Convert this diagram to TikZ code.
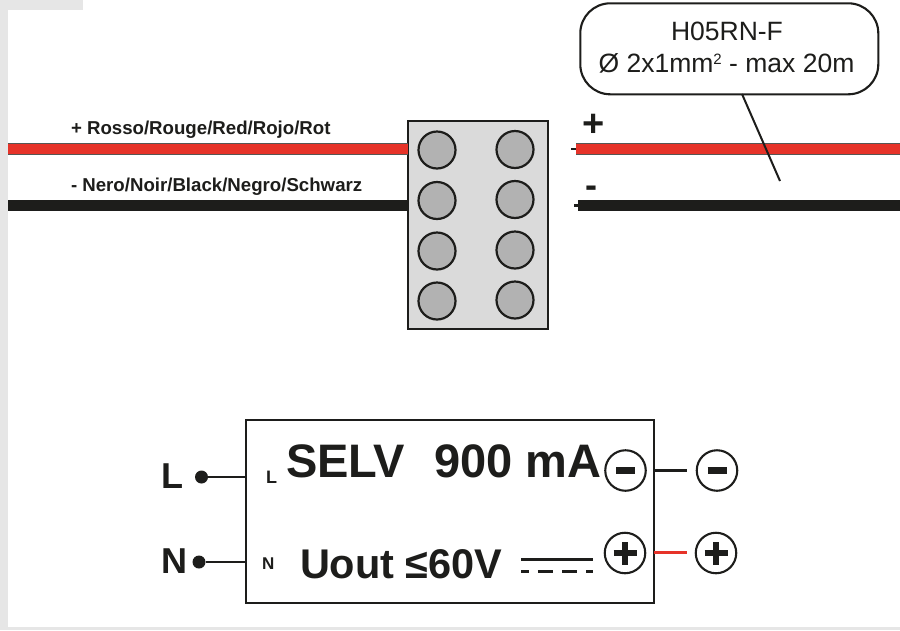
\documentclass[tikz,border=0pt]{standalone}
\usepackage{fontspec}
\setmainfont{Liberation Sans}
\definecolor{ink}{HTML}{1D1D1B}
\definecolor{wirered}{HTML}{E63329}
\definecolor{edge}{HTML}{E6E6E6}
\definecolor{blockfill}{HTML}{DADADA}
\definecolor{holefill}{HTML}{B2B2B2}
\newcommand{\fs}[1]{\fontsize{#1}{#1}\selectfont}
\tikzset{
  x=1pt,y=-1pt,
  txt/.style={inner sep=0pt,outer sep=0pt,text=ink,anchor=base west,font=\bfseries\fs{#1}},
  hole/.style={circle,draw=ink,line width=2.2pt,fill=holefill,minimum size=37pt,inner sep=0pt,outer sep=0pt},
  term/.style={circle,draw=ink,line width=2.1pt,fill=white,minimum size=40.5pt,inner sep=0pt,outer sep=0pt},
  dot/.style={circle,fill=ink,minimum size=13pt,inner sep=0pt,outer sep=0pt},
  redwire/.style={line width=1pt,draw=ink!75,double=wirered,double distance=9.6pt},
  blackwire/.style={line width=11pt,draw=ink},
  lead/.style={line width=2.3pt,draw=ink},
  bar/.style={line width=6.5pt,draw=ink}
}
\begin{document}
\begin{tikzpicture}
\useasboundingbox (0,0) rectangle (900,630);
\fill[white] (0,0) rectangle (900,630);
% page edge strips
\fill[edge] (0,0) rectangle (83,10);
\fill[edge] (0,0) rectangle (8,630);
\fill[edge] (0,627) rectangle (900,630);
% free wire ends
\coordinate (rl) at (8,149);
\coordinate (bl) at (8,205.5);
\coordinate (rr1) at (576,149);
\coordinate (rr2) at (900,149);
\coordinate (br1) at (578,205.5);
\coordinate (br2) at (900,205.5);
\coordinate (rn) at (571,149);
\coordinate (bn) at (574,205.5);
\coordinate (calloutend) at (780,181);
% terminal block
\node[draw=ink,line width=2.2pt,fill=blockfill,minimum width=140pt,minimum height=208pt,inner sep=0pt,outer sep=0pt,anchor=north west] (block) at (408,121) {};
\draw[redwire] (rl) -- (rl -| block.west);
\draw[blackwire] (bl) -- (bl -| block.west);
\draw[redwire] (rr1) -- (rr2);
\draw[blackwire] (br1) -- (br2);
\draw[lead] (rn) -- (rr1);
\draw[lead] (bn) -- (br1);
\foreach \n/\x/\y in {a/437/150,b/437/200.5,c/437/251,d/437/301,e/515/149.5,f/515/199.5,g/515/250,h/515/300}
  \node[hole] (hole\n) at (\x,\y) {};
% labels on wires
\node[txt=18.65] (redlabel) at (71,134) {+ Rosso/Rouge/Red/Rojo/Rot};
\node[txt=18.65] (blacklabel) at (71,191.5) {- Nero/Noir/Black/Negro/Schwarz};
\node[txt=38] (plus) at (582,136.5) {+};
\node[txt=36] (minus) at (585.5,197.5) {-};
% callout
\node[draw=ink,line width=2.1pt,fill=white,rounded corners=30pt,minimum width=298pt,minimum height=91pt,inner sep=0pt,outer sep=0pt,anchor=north west] (callout) at (580.3,3.3) {};
\node[inner sep=0pt,anchor=base,text=ink,font=\fs{26.5}] (calloutA) at (727,40) {H05RN-F};
\node[inner sep=0pt,anchor=base,text=ink,font=\fs{26.5}] (calloutB) at (726.5,72) {Ø 2x1mm\raisebox{8pt}{\fs{15}2} - max 20m};
\draw[line width=2pt,draw=ink] (742,94) -- (calloutend);
% driver
\node[draw=ink,line width=2.2pt,fill=white,minimum width=407.4pt,minimum height=183.3pt,inner sep=0pt,outer sep=0pt,anchor=north west] (driver) at (246.3,420) {};
\node[txt=47] (selv) at (286,477) {SELV\hspace{29pt}900 mA};
\node[txt=41.5] (uout) at (300,578) {Uout ≤60V};
\node[txt=18] (smallL) at (266,483) {L};
\node[txt=17] (smallN) at (262,569) {N};
\node[txt=36] (L) at (161.5,488.5) {L};
\node[txt=36] (N) at (161.5,573.5) {N};
\node[dot] (dotL) at (201.5,477) {};
\node[dot] (dotN) at (199,562) {};
\draw[lead] (dotL) -- (dotL -| driver.west);
\draw[lead] (dotN) -- (dotN -| driver.west);
% terminals
\node[term] (tm1) at (625.5,470.5) {};
\node[term] (tm2) at (717,470.5) {};
\node[term] (tp1) at (625,553) {};
\node[term] (tp2) at (716,553) {};
\foreach \t in {tm1,tm2}
  \draw[bar] ([xshift=-9.5pt]\t.center) -- ([xshift=9.5pt]\t.center);
\foreach \t in {tp1,tp2}{
  \draw[bar] ([xshift=-11.5pt]\t.center) -- ([xshift=11.5pt]\t.center);
  \draw[bar] ([yshift=-11.5pt]\t.center) -- ([yshift=11.5pt]\t.center);
}
\coordinate (om) at (687,470.5);
\coordinate (op) at (687,552.5);
\draw[lead] (driver.east |- om) -- (om);
\draw[line width=2.3pt,draw=wirered] (driver.east |- op) -- (op);
% DC symbol
\coordinate (dc1) at (521,559.5);
\coordinate (dc2) at (593,559.5);
\coordinate (dc3) at (521,571.5);
\coordinate (dc4) at (593,571.5);
\draw[line width=2.3pt,draw=ink] (dc1) -- (dc2);
\draw[line width=2.3pt,draw=ink,dash pattern=on 7.5pt off 9.3pt on 15pt off 9.3pt on 15pt off 9.3pt on 8pt] (dc3) -- (dc4);
\end{tikzpicture}
\end{document}
